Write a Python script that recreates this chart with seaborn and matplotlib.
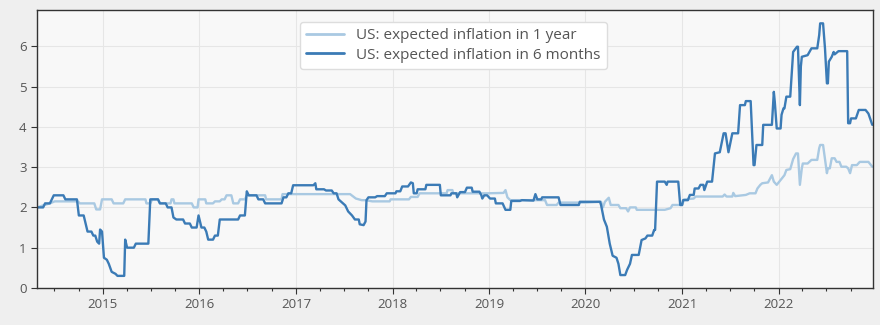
import matplotlib
matplotlib.use("Agg")
import matplotlib.pyplot as plt
import matplotlib.dates as mdates
import seaborn as sns
import pandas as pd
import numpy as np

# US expected inflation in 6 months (decimal year, value)
m6_t = [2014.32, 2014.38, 2014.40, 2014.45, 2014.47, 2014.49, 2014.59, 2014.61, 2014.73, 2014.75,
        2014.80, 2014.82, 2014.84, 2014.88, 2014.90, 2014.92, 2014.94, 2014.96, 2014.97, 2014.99,
        2015.01, 2015.04, 2015.06, 2015.09, 2015.13, 2015.15, 2015.22, 2015.23, 2015.25, 2015.32,
        2015.34, 2015.47, 2015.49, 2015.57, 2015.59, 2015.65, 2015.67, 2015.71, 2015.73, 2015.76,
        2015.83, 2015.85, 2015.90, 2015.92, 2015.97, 2015.99, 2016.01, 2016.02, 2016.05, 2016.07,
        2016.09, 2016.14, 2016.16, 2016.19, 2016.21, 2016.40, 2016.42, 2016.47, 2016.49, 2016.51,
        2016.59, 2016.61, 2016.66, 2016.68, 2016.85, 2016.87, 2016.90, 2016.92, 2016.95, 2016.97,
        2017.18, 2017.20, 2017.21, 2017.29, 2017.31, 2017.37, 2017.39, 2017.42, 2017.44, 2017.51,
        2017.54, 2017.58, 2017.61, 2017.65, 2017.66, 2017.70, 2017.72, 2017.73, 2017.75, 2017.82,
        2017.84, 2017.92, 2017.94, 2018.03, 2018.04, 2018.08, 2018.10, 2018.16, 2018.19, 2018.21,
        2018.22, 2018.25, 2018.26, 2018.34, 2018.35, 2018.49, 2018.50, 2018.60, 2018.61, 2018.66,
        2018.67, 2018.70, 2018.72, 2018.75, 2018.77, 2018.82, 2018.83, 2018.90, 2018.92, 2018.93,
        2018.95, 2018.98, 2019.01, 2019.06, 2019.07, 2019.14, 2019.17, 2019.22, 2019.23, 2019.32,
        2019.34, 2019.46, 2019.48, 2019.50, 2019.54, 2019.55, 2019.72, 2019.74, 2019.93, 2019.94,
        2020.15, 2020.16, 2020.19, 2020.22, 2020.25, 2020.28, 2020.32, 2020.34, 2020.36, 2020.41,
        2020.43, 2020.46, 2020.48, 2020.55, 2020.58, 2020.62, 2020.64, 2020.69, 2020.71, 2020.72,
        2020.74, 2020.82, 2020.84, 2020.85, 2020.96, 2020.98, 2021.00, 2021.01, 2021.06, 2021.08,
        2021.12, 2021.13, 2021.17, 2021.19, 2021.22, 2021.23, 2021.26, 2021.31, 2021.34, 2021.39,
        2021.43, 2021.45, 2021.48, 2021.52, 2021.58, 2021.60, 2021.65, 2021.66, 2021.71, 2021.74,
        2021.75, 2021.77, 2021.83, 2021.84, 2021.93, 2021.95, 2021.96, 2021.98, 2022.02, 2022.03,
        2022.05, 2022.06, 2022.08, 2022.12, 2022.15, 2022.19, 2022.20, 2022.22, 2022.23, 2022.24,
        2022.30, 2022.34, 2022.40, 2022.42, 2022.43, 2022.46, 2022.48, 2022.50, 2022.51, 2022.52,
        2022.55, 2022.57, 2022.58, 2022.62, 2022.71, 2022.72, 2022.74, 2022.75, 2022.80, 2022.83,
        2022.90, 2022.93, 2022.97]
m6_v = [2.0, 2.0, 2.1, 2.1, 2.2, 2.3, 2.3, 2.2, 2.2, 1.8,
        1.8, 1.6, 1.4, 1.4, 1.3, 1.3, 1.15, 1.1, 1.45, 1.4,
        0.75, 0.7, 0.6, 0.4, 0.35, 0.3, 0.3, 1.2, 1.0, 1.0,
        1.1, 1.1, 2.2, 2.2, 2.1, 2.1, 2.0, 2.0, 1.75, 1.7,
        1.7, 1.6, 1.6, 1.5, 1.5, 1.8, 1.6, 1.5, 1.5, 1.4,
        1.2, 1.2, 1.3, 1.3, 1.7, 1.7, 1.8, 1.8, 2.4, 2.3,
        2.3, 2.2, 2.2, 2.1, 2.1, 2.25, 2.25, 2.35, 2.35, 2.55,
        2.55, 2.6, 2.45, 2.45, 2.42, 2.42, 2.35, 2.35, 2.2, 2.05,
        1.9, 1.8, 1.7, 1.7, 1.58, 1.56, 1.65, 2.18, 2.25, 2.25,
        2.28, 2.28, 2.35, 2.35, 2.4, 2.4, 2.52, 2.52, 2.62, 2.6,
        2.35, 2.35, 2.45, 2.45, 2.56, 2.56, 2.3, 2.3, 2.35, 2.35,
        2.25, 2.38, 2.38, 2.38, 2.49, 2.49, 2.39, 2.39, 2.3, 2.22,
        2.3, 2.3, 2.22, 2.22, 2.1, 2.1, 1.94, 1.94, 2.16, 2.16,
        2.18, 2.17, 2.33, 2.2, 2.2, 2.25, 2.25, 2.06, 2.06, 2.14,
        2.14, 2.06, 1.7, 1.52, 1.1, 0.8, 0.75, 0.6, 0.32, 0.32,
        0.45, 0.6, 0.82, 0.82, 1.19, 1.23, 1.3, 1.3, 1.44, 1.44,
        2.64, 2.64, 2.56, 2.64, 2.64, 2.06, 2.06, 2.18, 2.18, 2.31,
        2.31, 2.47, 2.47, 2.56, 2.56, 2.43, 2.64, 2.64, 3.34, 3.37,
        3.84, 3.84, 3.37, 3.84, 3.84, 4.54, 4.54, 4.64, 4.64, 3.05,
        3.05, 3.55, 3.55, 4.05, 4.05, 4.87, 4.62, 3.96, 3.96, 4.3,
        4.46, 4.46, 4.75, 4.75, 5.86, 5.99, 5.99, 4.54, 5.5, 5.74,
        5.78, 5.95, 5.95, 6.28, 6.57, 6.57, 5.95, 5.08, 5.08, 5.62,
        5.74, 5.86, 5.8, 5.88, 5.88, 4.09, 4.09, 4.21, 4.21, 4.42,
        4.42, 4.33, 4.05]

# US expected inflation in 1 year (decimal year, value)
y1_t = [2014.32, 2014.38, 2014.45, 2014.50, 2014.74, 2014.76, 2014.91, 2014.93, 2014.97, 2014.99,
        2015.09, 2015.11, 2015.21, 2015.23, 2015.44, 2015.45, 2015.49, 2015.51, 2015.57, 2015.59,
        2015.70, 2015.71, 2015.73, 2015.74, 2015.92, 2015.94, 2015.98, 2015.99, 2016.06, 2016.07,
        2016.14, 2016.16, 2016.21, 2016.23, 2016.26, 2016.28, 2016.33, 2016.35, 2016.40, 2016.42,
        2016.47, 2016.49, 2016.68, 2016.69, 2016.85, 2016.86, 2017.56, 2017.62, 2017.68, 2017.72,
        2017.79, 2017.97, 2017.98, 2018.17, 2018.19, 2018.26, 2018.28, 2018.56, 2018.57, 2018.62,
        2018.63, 2018.98, 2019.15, 2019.17, 2019.19, 2019.22, 2019.58, 2019.60, 2019.70, 2019.72,
        2020.00, 2020.16, 2020.18, 2020.20, 2020.24, 2020.26, 2020.34, 2020.36, 2020.42, 2020.44,
        2020.46, 2020.52, 2020.53, 2020.82, 2020.88, 2020.90, 2021.00, 2021.02, 2021.12, 2021.14,
        2021.42, 2021.44, 2021.46, 2021.52, 2021.53, 2021.55, 2021.66, 2021.70, 2021.76, 2021.78,
        2021.81, 2021.83, 2021.89, 2021.93, 2021.95, 2021.98, 2022.02, 2022.06, 2022.08, 2022.12,
        2022.15, 2022.18, 2022.20, 2022.22, 2022.24, 2022.25, 2022.30, 2022.34, 2022.40, 2022.42,
        2022.43, 2022.46, 2022.48, 2022.50, 2022.51, 2022.53, 2022.55, 2022.58, 2022.60, 2022.63,
        2022.65, 2022.70, 2022.72, 2022.74, 2022.76, 2022.81, 2022.84, 2022.93, 2022.97]
y1_v = [2.0, 2.05, 2.1, 2.15, 2.15, 2.1, 2.1, 1.95, 1.95, 2.2,
        2.2, 2.1, 2.1, 2.2, 2.2, 2.1, 2.1, 2.2, 2.2, 2.1,
        2.1, 2.2, 2.2, 2.1, 2.1, 2.0, 2.0, 2.2, 2.2, 2.1,
        2.1, 2.15, 2.15, 2.2, 2.2, 2.3, 2.3, 2.1, 2.1, 2.2,
        2.2, 2.3, 2.3, 2.2, 2.2, 2.33, 2.33, 2.22, 2.18, 2.18,
        2.15, 2.15, 2.2, 2.2, 2.26, 2.26, 2.35, 2.35, 2.43, 2.43,
        2.35, 2.35, 2.36, 2.43, 2.25, 2.18, 2.18, 2.06, 2.06, 2.12,
        2.12, 2.14, 2.0, 2.14, 2.24, 2.06, 2.06, 1.98, 1.98, 1.9,
        2.0, 2.0, 1.94, 1.94, 1.98, 2.06, 2.06, 2.2, 2.22, 2.27,
        2.27, 2.32, 2.27, 2.27, 2.36, 2.28, 2.31, 2.35, 2.35, 2.47,
        2.56, 2.6, 2.62, 2.8, 2.64, 2.56, 2.68, 2.8, 2.93, 2.95,
        3.2, 3.34, 3.34, 2.56, 2.97, 3.09, 3.09, 3.18, 3.18, 3.47,
        3.55, 3.55, 3.2, 2.85, 2.97, 2.97, 3.22, 3.22, 3.13, 3.13,
        3.01, 3.01, 2.97, 2.85, 3.05, 3.05, 3.13, 3.13, 3.01]

labels = ["US: expected inflation in 1 year", "US: expected inflation in 6 months"]
colors = ["#a9c9e2", "#3b7bb6"]


def to_dates(ts):
    ts = np.asarray(ts, dtype=float)
    return pd.Timestamp("2014-01-01") + pd.to_timedelta((ts - 2014.0) * 365.25, unit="D")


df = pd.concat([
    pd.DataFrame({"date": to_dates(y1_t), "value": y1_v, "series": labels[0]}),
    pd.DataFrame({"date": to_dates(m6_t), "value": m6_v, "series": labels[1]}),
], ignore_index=True)

sns.set_theme(style="whitegrid")
plt.rcParams["font.family"] = ["Open Sans", "DejaVu Sans"]

fig = plt.figure(figsize=(8.8, 3.25), dpi=100, facecolor="#efefef")
ax = fig.add_axes([0.042, 0.114, 0.950, 0.855])
ax.set_facecolor("#f8f8f8")

sns.lineplot(data=df, x="date", y="value", hue="series", hue_order=labels,
             palette=colors, estimator=None, sort=False, linewidth=1.7, ax=ax)

ax.set_xlim(to_dates([2014.316])[0], to_dates([2022.977])[0])
ax.set_ylim(0, 6.9)
ax.set_yticks([0, 1, 2, 3, 4, 5, 6])
ax.xaxis.set_major_locator(mdates.YearLocator())
ax.xaxis.set_major_formatter(mdates.DateFormatter("%Y"))
ax.xaxis.set_minor_locator(mdates.MonthLocator(bymonth=[1, 4, 7, 10]))
ax.set_xlabel("")
ax.set_ylabel("")

ax.grid(True, which="major", color="#e6e6e6", linewidth=0.8)
for sp in ax.spines.values():
    sp.set_visible(True)
    sp.set_color("#333333")
    sp.set_linewidth(1.0)

ax.tick_params(axis="both", which="major", direction="out", length=4, width=0.8,
               color="#333333", labelsize=9.5, labelcolor="#555555", left=True, bottom=True)
ax.tick_params(axis="x", which="minor", direction="out", length=2.5, width=0.8,
               color="#333333", bottom=True)

leg = ax.legend(loc="upper center", bbox_to_anchor=(0.498, 0.985), fontsize=11,
                frameon=True, facecolor="white", edgecolor="#dddddd", framealpha=1,
                handlelength=2.5, borderpad=0.4, labelspacing=0.3)
for t in leg.get_texts():
    t.set_color("#555555")
for line in leg.get_lines():
    line.set_linewidth(2.0)

fig.savefig("out.png", dpi=100, facecolor=fig.get_facecolor())
